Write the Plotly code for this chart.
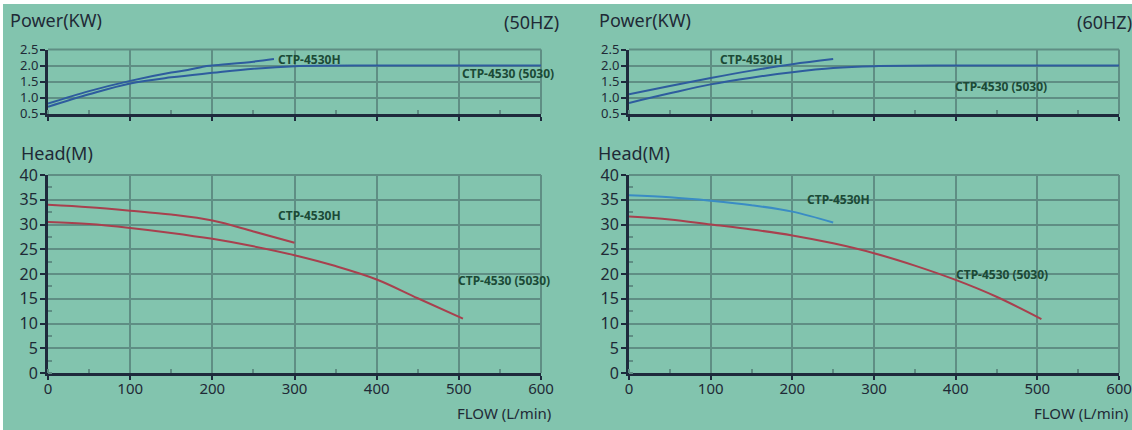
import plotly.graph_objects as go

# ---------------- data ----------------
# 50 Hz
p50_h_flow = [0, 50, 100, 150, 170, 190, 200, 250, 275]
p50_h_kw = [0.81, 1.20, 1.52, 1.78, 1.86, 1.97, 2.00, 2.12, 2.20]
p50_flow = [0, 50, 100, 150, 200, 250, 300, 400, 500, 600]
p50_kw = [0.71, 1.10, 1.44, 1.63, 1.77, 1.90, 1.98, 2.00, 2.00, 2.00]
h50_h_flow = [0, 50, 100, 150, 200, 250, 300]
h50_h_m = [34.0, 33.5, 32.8, 32.0, 30.8, 28.6, 26.3]
h50_flow = [0, 50, 100, 150, 200, 250, 300, 350, 400, 450, 505]
h50_m = [30.5, 30.1, 29.3, 28.3, 27.1, 25.6, 23.8, 21.6, 18.9, 15.1, 11.0]

# 60 Hz
p60_h_flow = [0, 50, 100, 150, 200, 250]
p60_h_kw = [1.10, 1.36, 1.61, 1.84, 2.04, 2.20]
p60_flow = [0, 50, 100, 150, 200, 250, 300, 400, 500, 600]
p60_kw = [0.83, 1.13, 1.41, 1.62, 1.79, 1.92, 1.98, 2.00, 2.00, 2.00]
h60_h_flow = [0, 50, 100, 150, 200, 250]
h60_h_m = [35.9, 35.5, 34.8, 33.9, 32.6, 30.4]
h60_flow = [0, 50, 100, 150, 200, 250, 300, 350, 400, 450, 505]
h60_m = [31.6, 31.0, 30.0, 29.0, 27.8, 26.2, 24.2, 21.7, 18.8, 15.4, 10.9]

model_h = "CTP-4530H"
model_std = "CTP-4530 (5030)"

# ---------------- styling ----------------
W, H = 1132, 430
BG = "#82C4AE"
GRID = "#5F8E84"
AXIS = "#1E2A3C"
TXT = "#1F2A36"
LBL = "#1B4A36"
BLUE = "#2E5C9E"
LBLUE = "#3A8CC4"
RED = "#A8404E"
FONT = "Noto Sans"


def px_x(p):
    return p / W


def px_y(p):
    return 1 - p / H


fig = go.Figure()

# traces
fig.add_trace(go.Scatter(x=p50_h_flow, y=p50_h_kw, mode="lines", line=dict(color=BLUE, width=2, shape="spline"), xaxis="x", yaxis="y"))
fig.add_trace(go.Scatter(x=p50_flow, y=p50_kw, mode="lines", line=dict(color=BLUE, width=2, shape="spline"), xaxis="x", yaxis="y"))
fig.add_trace(go.Scatter(x=h50_h_flow, y=h50_h_m, mode="lines", line=dict(color=RED, width=2, shape="spline"), xaxis="x2", yaxis="y2"))
fig.add_trace(go.Scatter(x=h50_flow, y=h50_m, mode="lines", line=dict(color=RED, width=2, shape="spline"), xaxis="x2", yaxis="y2"))
fig.add_trace(go.Scatter(x=p60_h_flow, y=p60_h_kw, mode="lines", line=dict(color=BLUE, width=2, shape="spline"), xaxis="x3", yaxis="y3"))
fig.add_trace(go.Scatter(x=p60_flow, y=p60_kw, mode="lines", line=dict(color=BLUE, width=2, shape="spline"), xaxis="x3", yaxis="y3"))
fig.add_trace(go.Scatter(x=h60_h_flow, y=h60_h_m, mode="lines", line=dict(color=LBLUE, width=2, shape="spline"), xaxis="x4", yaxis="y4"))
fig.add_trace(go.Scatter(x=h60_flow, y=h60_m, mode="lines", line=dict(color=RED, width=2, shape="spline"), xaxis="x4", yaxis="y4"))

left_dom = [px_x(48), px_x(541)]
right_dom = [px_x(629), px_x(1119)]
pow_dom = [px_y(113.5), px_y(49.5)]
head_dom = [px_y(373), px_y(175)]

tickfont = dict(family=FONT, size=16, color=TXT)
xtickfont = dict(family=FONT, size=15, color=TXT)
ptickfont = dict(family=FONT, size=13, color=TXT)


def xax(dom, anchor, showlabels):
    return dict(
        domain=dom, anchor=anchor, range=[0, 600], dtick=100, tick0=0,
        automargin=False,
        showgrid=True, gridcolor=GRID, gridwidth=2,
        showline=True, linecolor=AXIS, linewidth=3,
        zeroline=False,
        ticks="outside", ticklen=4, tickcolor=AXIS, tickwidth=2,
        ticklabelstandoff=-4,
        minor=dict(dtick=50, ticks="inside", ticklen=4, tickcolor=GRID, showgrid=False),
        showticklabels=showlabels, tickfont=xtickfont,
    )


def yax(dom, anchor, rng, dt, minor_dt, tf):
    d = dict(
        domain=dom, anchor=anchor, range=rng, dtick=dt, tick0=0,
        automargin=False,
        showgrid=True, gridcolor=GRID, gridwidth=2,
        showline=True, linecolor=AXIS, linewidth=3,
        zeroline=False,
        ticks="outside", ticklen=5, tickcolor=AXIS, tickwidth=2,
        ticklabelstandoff=-1,
        tickfont=tf, tickformat=".1f" if dt < 1 else "d",
    )
    if minor_dt:
        d["minor"] = dict(dtick=minor_dt, ticks="inside", ticklen=4, tickcolor=GRID, showgrid=False)
    return d


fig.update_layout(
    width=W, height=H, autosize=False,
    margin=dict(l=0, r=0, t=0, b=0, pad=0),
    paper_bgcolor=BG, plot_bgcolor=BG,
    showlegend=False,
    xaxis=xax(left_dom, "y", False),
    yaxis=yax(pow_dom, "x", [0.5, 2.5], 0.5, None, ptickfont),
    xaxis2=xax(left_dom, "y2", True),
    yaxis2=yax(head_dom, "x2", [0, 40], 5, 2.5, tickfont),
    xaxis3=xax(right_dom, "y3", False),
    yaxis3=yax(pow_dom, "x3", [0.5, 2.5], 0.5, None, ptickfont),
    xaxis4=xax(right_dom, "y4", True),
    yaxis4=yax(head_dom, "x4", [0, 40], 5, 2.5, tickfont),
)

# border lines (top/right) in grid color
for xr, yr in [("x", "y"), ("x2", "y2"), ("x3", "y3"), ("x4", "y4")]:
    fig.add_shape(type="line", xref=xr + " domain", yref=yr + " domain", x0=0, x1=1, y0=1, y1=1,
                  line=dict(color=GRID, width=2), layer="below")
    fig.add_shape(type="line", xref=xr + " domain", yref=yr + " domain", x0=1, x1=1, y0=0, y1=1,
                  line=dict(color=GRID, width=2), layer="below")

# white strips at top/left edges
fig.add_shape(type="rect", xref="paper", yref="paper", x0=0, x1=1, y0=px_y(4), y1=1,
              fillcolor="white", line=dict(width=0), layer="below")
fig.add_shape(type="rect", xref="paper", yref="paper", x0=0, x1=px_x(3), y0=0, y1=1,
              fillcolor="white", line=dict(width=0), layer="below")

# curve labels
lab_font = dict(family=FONT, size=12, color=LBL, weight="bold")
curve_labels = [
    ("x", "y", 277, 2.18, model_h),
    ("x", "y", 502, 1.76, model_std),
    ("x2", "y2", 277, 31.9, model_h),
    ("x2", "y2", 496, 18.6, model_std),
    ("x3", "y3", 109, 2.20, model_h),
    ("x3", "y3", 397, 1.33, model_std),
    ("x4", "y4", 215, 35.0, model_h),
    ("x4", "y4", 398, 20.0, model_std),
]
for xr, yr, xv, yv, t in curve_labels:
    fig.add_annotation(x=xv, y=yv, xref=xr, yref=yr, text=t, showarrow=False,
                       xanchor="left", yanchor="middle", font=lab_font)

# titles
big = dict(family=FONT, size=18, color=TXT)
mid = dict(family=FONT, size=15, color=TXT)
titles = [
    (8, 20, "Power(KW)", "left", big),
    (561, 22, "(50HZ)", "right", big),
    (19, 153, "Head(M)", "left", big),
    (455, 413, "FLOW (L/min)", "left", mid),
    (597, 20, "Power(KW)", "left", big),
    (1075, 22, "(60HZ)", "left", big),
    (596, 153, "Head(M)", "left", big),
    (1032, 413, "FLOW (L/min)", "left", mid),
]
for x, y, t, anc, f in titles:
    fig.add_annotation(x=px_x(x), y=px_y(y), xref="paper", yref="paper", text=t, showarrow=False,
                       xanchor=anc, yanchor="middle", font=f)

fig.write_html(
    "out.html",
    config={"responsive": False},
    post_script=(
        "document.documentElement.style.margin='0';"
        "document.body.style.margin='0';document.body.style.padding='0';"
        "document.body.style.overflow='hidden';"
    ),
)
